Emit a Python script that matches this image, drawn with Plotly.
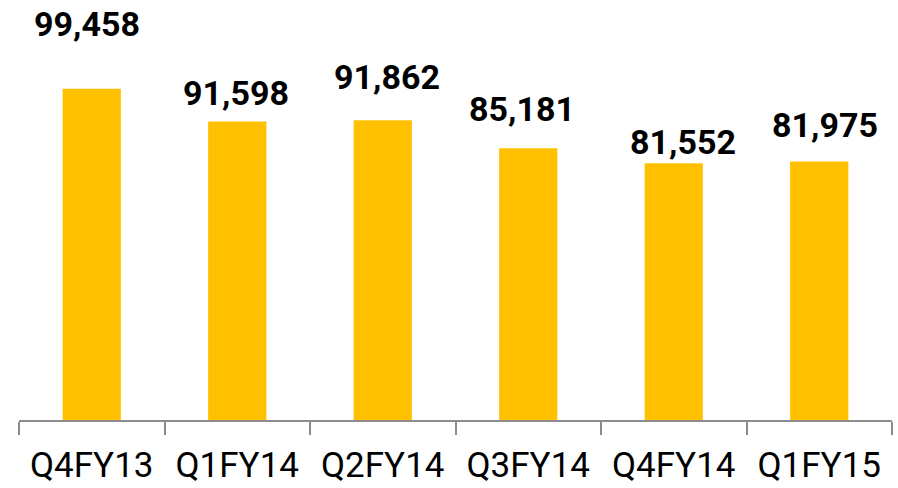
import plotly.graph_objects as go

categories = ["Q4FY13", "Q1FY14", "Q2FY14", "Q3FY14", "Q4FY14", "Q1FY15"]
values = [99458, 91598, 91862, 85181, 81552, 81975]
value_labels = ["99,458", "91,598", "91,862", "85,181", "81,552", "81,975"]

# manual label placement (pixels): gap from bar top to text baseline, horizontal offset
label_gap = [53, 16, 31, 27, 9, 25]
label_dx = [-4.5, -1, 4, -6, 9, 6]
BASELINE_OFFSET = 10

BAR_COLOR = "#FFC000"
AXIS_COLOR = "#8C8C8C"

fig = go.Figure(
    go.Bar(
        x=categories,
        y=values,
        marker=dict(color=BAR_COLOR, line=dict(width=0)),
        hoverinfo="skip",
    )
)

for c, v, t, g, dx in zip(categories, values, value_labels, label_gap, label_dx):
    fig.add_annotation(
        x=c, y=v, xref="x", yref="y",
        text=f"<b>{t}</b>",
        showarrow=False,
        yanchor="bottom", xanchor="center",
        yshift=g - BASELINE_OFFSET, xshift=dx,
        font=dict(family="Roboto", size=34, color="#000000"),
    )

fig.update_layout(
    width=898, height=488,
    margin=dict(l=19, r=6, t=3, b=68, autoexpand=False),
    paper_bgcolor="white", plot_bgcolor="white",
    bargap=0.6,
    showlegend=False,
    font=dict(family="Roboto"),
)
fig.update_xaxes(
    type="category",
    automargin=False,
    showline=True, linecolor=AXIS_COLOR, linewidth=1.5,
    ticks="outside", tickson="boundaries", ticklen=13,
    tickcolor=AXIS_COLOR, tickwidth=1.5,
    ticklabelstandoff=13,
    showgrid=False, zeroline=False,
    tickfont=dict(family="Roboto", size=35, color="#000000"),
)
fig.update_yaxes(range=[20000, 120000], visible=False, showgrid=False)

fig.write_html(
    "out.html",
    config={"displayModeBar": False},
    post_script="document.body.style.margin='0';",
)
